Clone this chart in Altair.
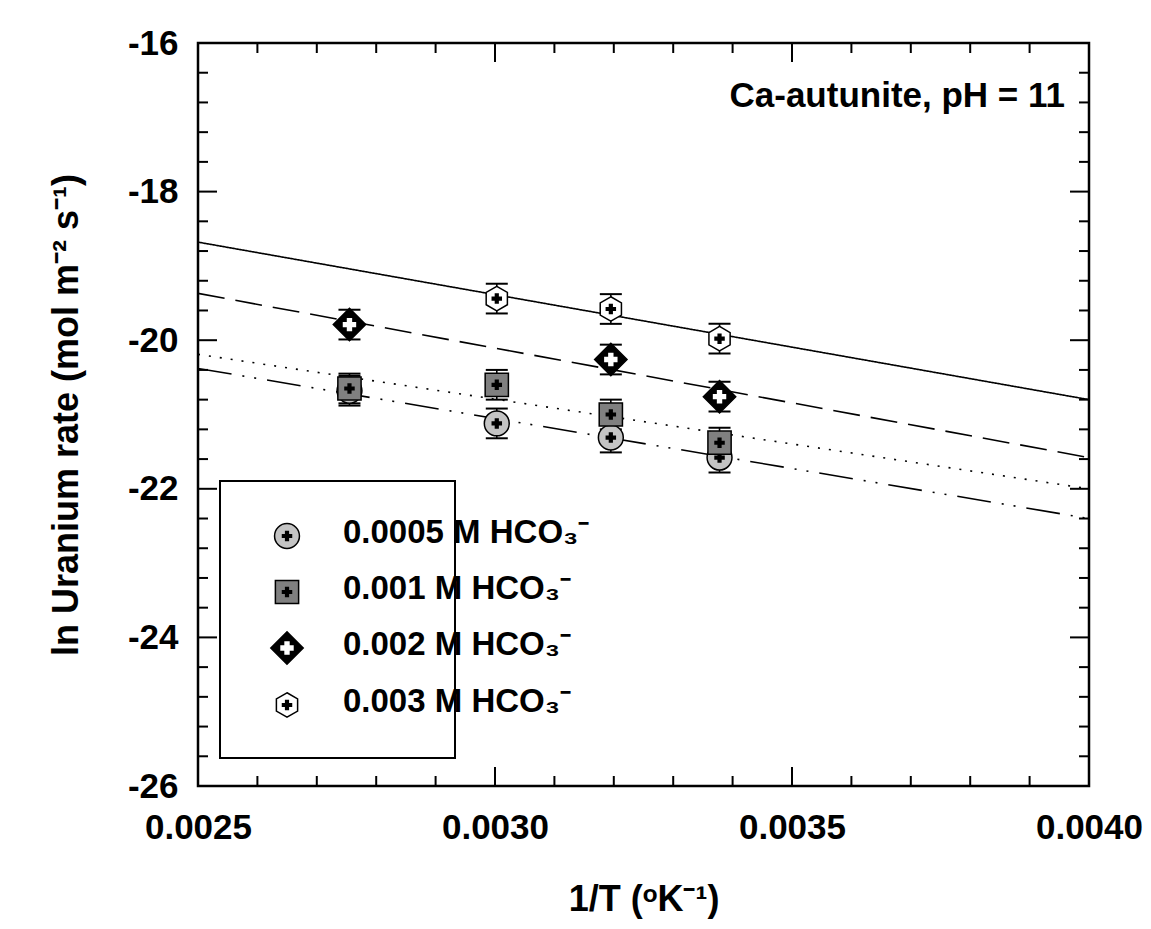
import altair as alt
import pandas as pd

# ---------------- data ----------------
series_names = ["0.0005 M HCO3", "0.001 M HCO3", "0.002 M HCO3", "0.003 M HCO3"]
legend_labels = ["0.0005 M  HCO₃⁻", "0.001 M HCO₃⁻", "0.002 M HCO₃⁻", "0.003 M HCO₃⁻"]

c_x = [0.002755, 0.003003, 0.003195, 0.003378]
c_y = [-20.68, -21.12, -21.31, -21.58]
c_err = [0.20, 0.20, 0.20, 0.20]

s_x = [0.002755, 0.003003, 0.003195, 0.003378]
s_y = [-20.65, -20.60, -21.00, -21.38]
s_err = [0.20, 0.20, 0.20, 0.20]

d_x = [0.002755, 0.003195, 0.003378]
d_y = [-19.79, -20.26, -20.76]
d_err = [0.20, 0.20, 0.20]

h_x = [0.003003, 0.003195, 0.003378]
h_y = [-19.44, -19.58, -19.98]
h_err = [0.20, 0.20, 0.20]

fit_x = [0.0025, 0.0040]
fit_c = [-20.38, -22.40]
fit_s = [-20.19, -22.00]
fit_d = [-19.37, -21.58]
fit_h = [-18.68, -20.80]

x_major = [0.0025, 0.0030, 0.0035, 0.0040]
x_minor = [0.0026, 0.0027, 0.0028, 0.0029, 0.0031, 0.0032, 0.0033, 0.0034,
           0.0036, 0.0037, 0.0038, 0.0039]
y_major = [-26, -24, -22, -20, -18, -16]
y_minor = [-25.6, -25.2, -24.8, -24.4, -23.6, -23.2, -22.8, -22.4,
           -21.6, -21.2, -20.8, -20.4, -19.6, -19.2, -18.8, -18.4,
           -17.6, -17.2, -16.8, -16.4]

annotation = "Ca-autunite, pH = 11"
x_title = "1/T (ᵒK⁻¹)"
y_title = "ln Uranium rate (mol m⁻² s⁻¹)"

# ---------------- layout / style ----------------
W, H = 891, 743
FONT = "Liberation Sans"
HEX = "M0,-1L0.866,-0.5L0.866,0.5L0,1L-0.866,0.5L-0.866,-0.5Z"

styles = {
    series_names[0]: dict(shape="circle", fill="#c4c4c4", size=620, cross="black", csize=110, dash=[34, 11, 2, 10, 2, 11]),
    series_names[1]: dict(shape="square", fill="#808080", size=540, cross="black", csize=110, dash=[2, 9]),
    series_names[2]: dict(shape="diamond", fill="black", size=1050, cross="white", csize=180, dash=[27, 11]),
    series_names[3]: dict(shape=HEX, fill="white", size=600, cross="black", csize=110, dash=[1, 0]),
}

pts = {
    series_names[0]: (c_x, c_y, c_err),
    series_names[1]: (s_x, s_y, s_err),
    series_names[2]: (d_x, d_y, d_err),
    series_names[3]: (h_x, h_y, h_err),
}
fits = {
    series_names[0]: fit_c,
    series_names[1]: fit_s,
    series_names[2]: fit_d,
    series_names[3]: fit_h,
}

xscale = alt.Scale(domain=[0.0025, 0.0040], nice=False, zero=False)
yscale = alt.Scale(domain=[-26, -16], nice=False, zero=False)

x_axis = alt.Axis(values=x_major, format=".4f", ticks=False, tickSize=0, domain=False, grid=False,
                  labelFont=FONT, labelFontSize=35, labelFontWeight="bold", labelColor="black",
                  labelBaseline="alphabetic", labelPadding=52, labelFlush=False,
                  title=x_title, titleFont=FONT, titleFontSize=36, titleFontWeight="bold",
                  titleColor="black", titleBaseline="alphabetic", titleX=W / 2, titleY=124,
                  titleAlign="center")
y_axis = alt.Axis(values=y_major, labelExpr="'' + datum.value", ticks=False, tickSize=0,
                  domain=False, grid=False,
                  labelFont=FONT, labelFontSize=35, labelFontWeight="bold", labelColor="black",
                  labelPadding=20, labelFlush=False,
                  title=y_title, titleFont=FONT, titleFontSize=36, titleFontWeight="bold",
                  titleColor="black", titleAngle=-90, titleBaseline="bottom",
                  titleAlign="center", titleX=-113, titleY=H / 2)

layers = []

# fitted lines
for name in series_names:
    df = pd.DataFrame({"x": fit_x, "y": fits[name]})
    layers.append(
        alt.Chart(df).mark_line(color="black", strokeWidth=1.6, strokeDash=styles[name]["dash"], clip=True)
        .encode(x=alt.X("x:Q", scale=xscale, axis=x_axis), y=alt.Y("y:Q", scale=yscale, axis=y_axis))
    )

# error bars
for name in series_names:
    xs, ys, es = pts[name]
    df = pd.DataFrame({"x": xs, "y": ys, "err": es})
    df["lo"] = df["y"] - df["err"]
    df["hi"] = df["y"] + df["err"]
    base = alt.Chart(df)
    layers.append(base.mark_rule(color="black", strokeWidth=1.6, opacity=1).encode(
        x="x:Q", y="lo:Q", y2="hi:Q"))
    layers.append(base.mark_tick(orient="horizontal", size=22, thickness=2, color="black", opacity=1).encode(
        x="x:Q", y="lo:Q"))
    layers.append(base.mark_tick(orient="horizontal", size=22, thickness=2, color="black", opacity=1).encode(
        x="x:Q", y="hi:Q"))

# markers with inner crosses
for name in series_names:
    xs, ys, es = pts[name]
    df = pd.DataFrame({"x": xs, "y": ys})
    st = styles[name]
    base = alt.Chart(df)
    layers.append(base.mark_point(shape=st["shape"], size=st["size"], filled=True, fill=st["fill"],
                                  fillOpacity=1, stroke="black", strokeWidth=1.5, opacity=1)
                  .encode(x="x:Q", y="y:Q"))
    layers.append(base.mark_point(shape="cross", size=st["csize"], filled=True, fill=st["cross"],
                                  fillOpacity=1, strokeWidth=0, opacity=1)
                  .encode(x="x:Q", y="y:Q"))

# inward ticks on all four sides
dxM = pd.DataFrame({"v": x_major})
dxm = pd.DataFrame({"v": x_minor})
dyM = pd.DataFrame({"v": y_major})
dym = pd.DataFrame({"v": y_minor})
for dfx, L in [(dxM, 19), (dxm, 10)]:
    layers.append(alt.Chart(dfx).mark_rule(color="black", strokeWidth=2).encode(
        x="v:Q", y=alt.value(H), y2=alt.value(H - L)))
    layers.append(alt.Chart(dfx).mark_rule(color="black", strokeWidth=2).encode(
        x="v:Q", y=alt.value(0), y2=alt.value(L)))
for dfy, L in [(dyM, 19), (dym, 10)]:
    layers.append(alt.Chart(dfy).mark_rule(color="black", strokeWidth=2).encode(
        y="v:Q", x=alt.value(0), x2=alt.value(L)))
    layers.append(alt.Chart(dfy).mark_rule(color="black", strokeWidth=2).encode(
        y="v:Q", x=alt.value(W), x2=alt.value(W - L)))

one = pd.DataFrame({"a": [0]})

# annotation
layers.append(alt.Chart(one).mark_text(align="right", baseline="alphabetic", font=FONT, fontSize=35,
                                       fontWeight="bold", color="black")
              .encode(x=alt.value(867), y=alt.value(64), text=alt.value(annotation)))

# legend box
layers.append(alt.Chart(one).mark_rect(fill="white", stroke="black", strokeWidth=2).encode(
    x=alt.value(22), x2=alt.value(257), y=alt.value(438), y2=alt.value(715)))
row_y = [493, 549, 605, 662]
for i, name in enumerate(series_names):
    st = styles[name]
    ry = row_y[i]
    layers.append(alt.Chart(one).mark_point(shape=st["shape"], size=st["size"], filled=True, fill=st["fill"],
                                            fillOpacity=1, stroke="black", strokeWidth=1.5, opacity=1)
                  .encode(x=alt.value(89), y=alt.value(ry)))
    layers.append(alt.Chart(one).mark_point(shape="cross", size=st["csize"], filled=True, fill=st["cross"],
                                            fillOpacity=1, strokeWidth=0, opacity=1)
                  .encode(x=alt.value(89), y=alt.value(ry)))
    layers.append(alt.Chart(one).mark_text(align="left", baseline="middle", font=FONT, fontSize=33,
                                           fontWeight="bold", color="black")
                  .encode(x=alt.value(145), y=alt.value(ry - 3), text=alt.value(legend_labels[i])))

chart = alt.layer(*layers).properties(
    width=W, height=H,
    autosize=alt.AutoSizeParams(type="none"),
    padding={"left": 190, "top": 35, "right": 54, "bottom": 135},
    background="white",
).configure_view(stroke="black", strokeWidth=2.5)

chart.save("out.html", embed_options={"renderer": "svg", "actions": False})
